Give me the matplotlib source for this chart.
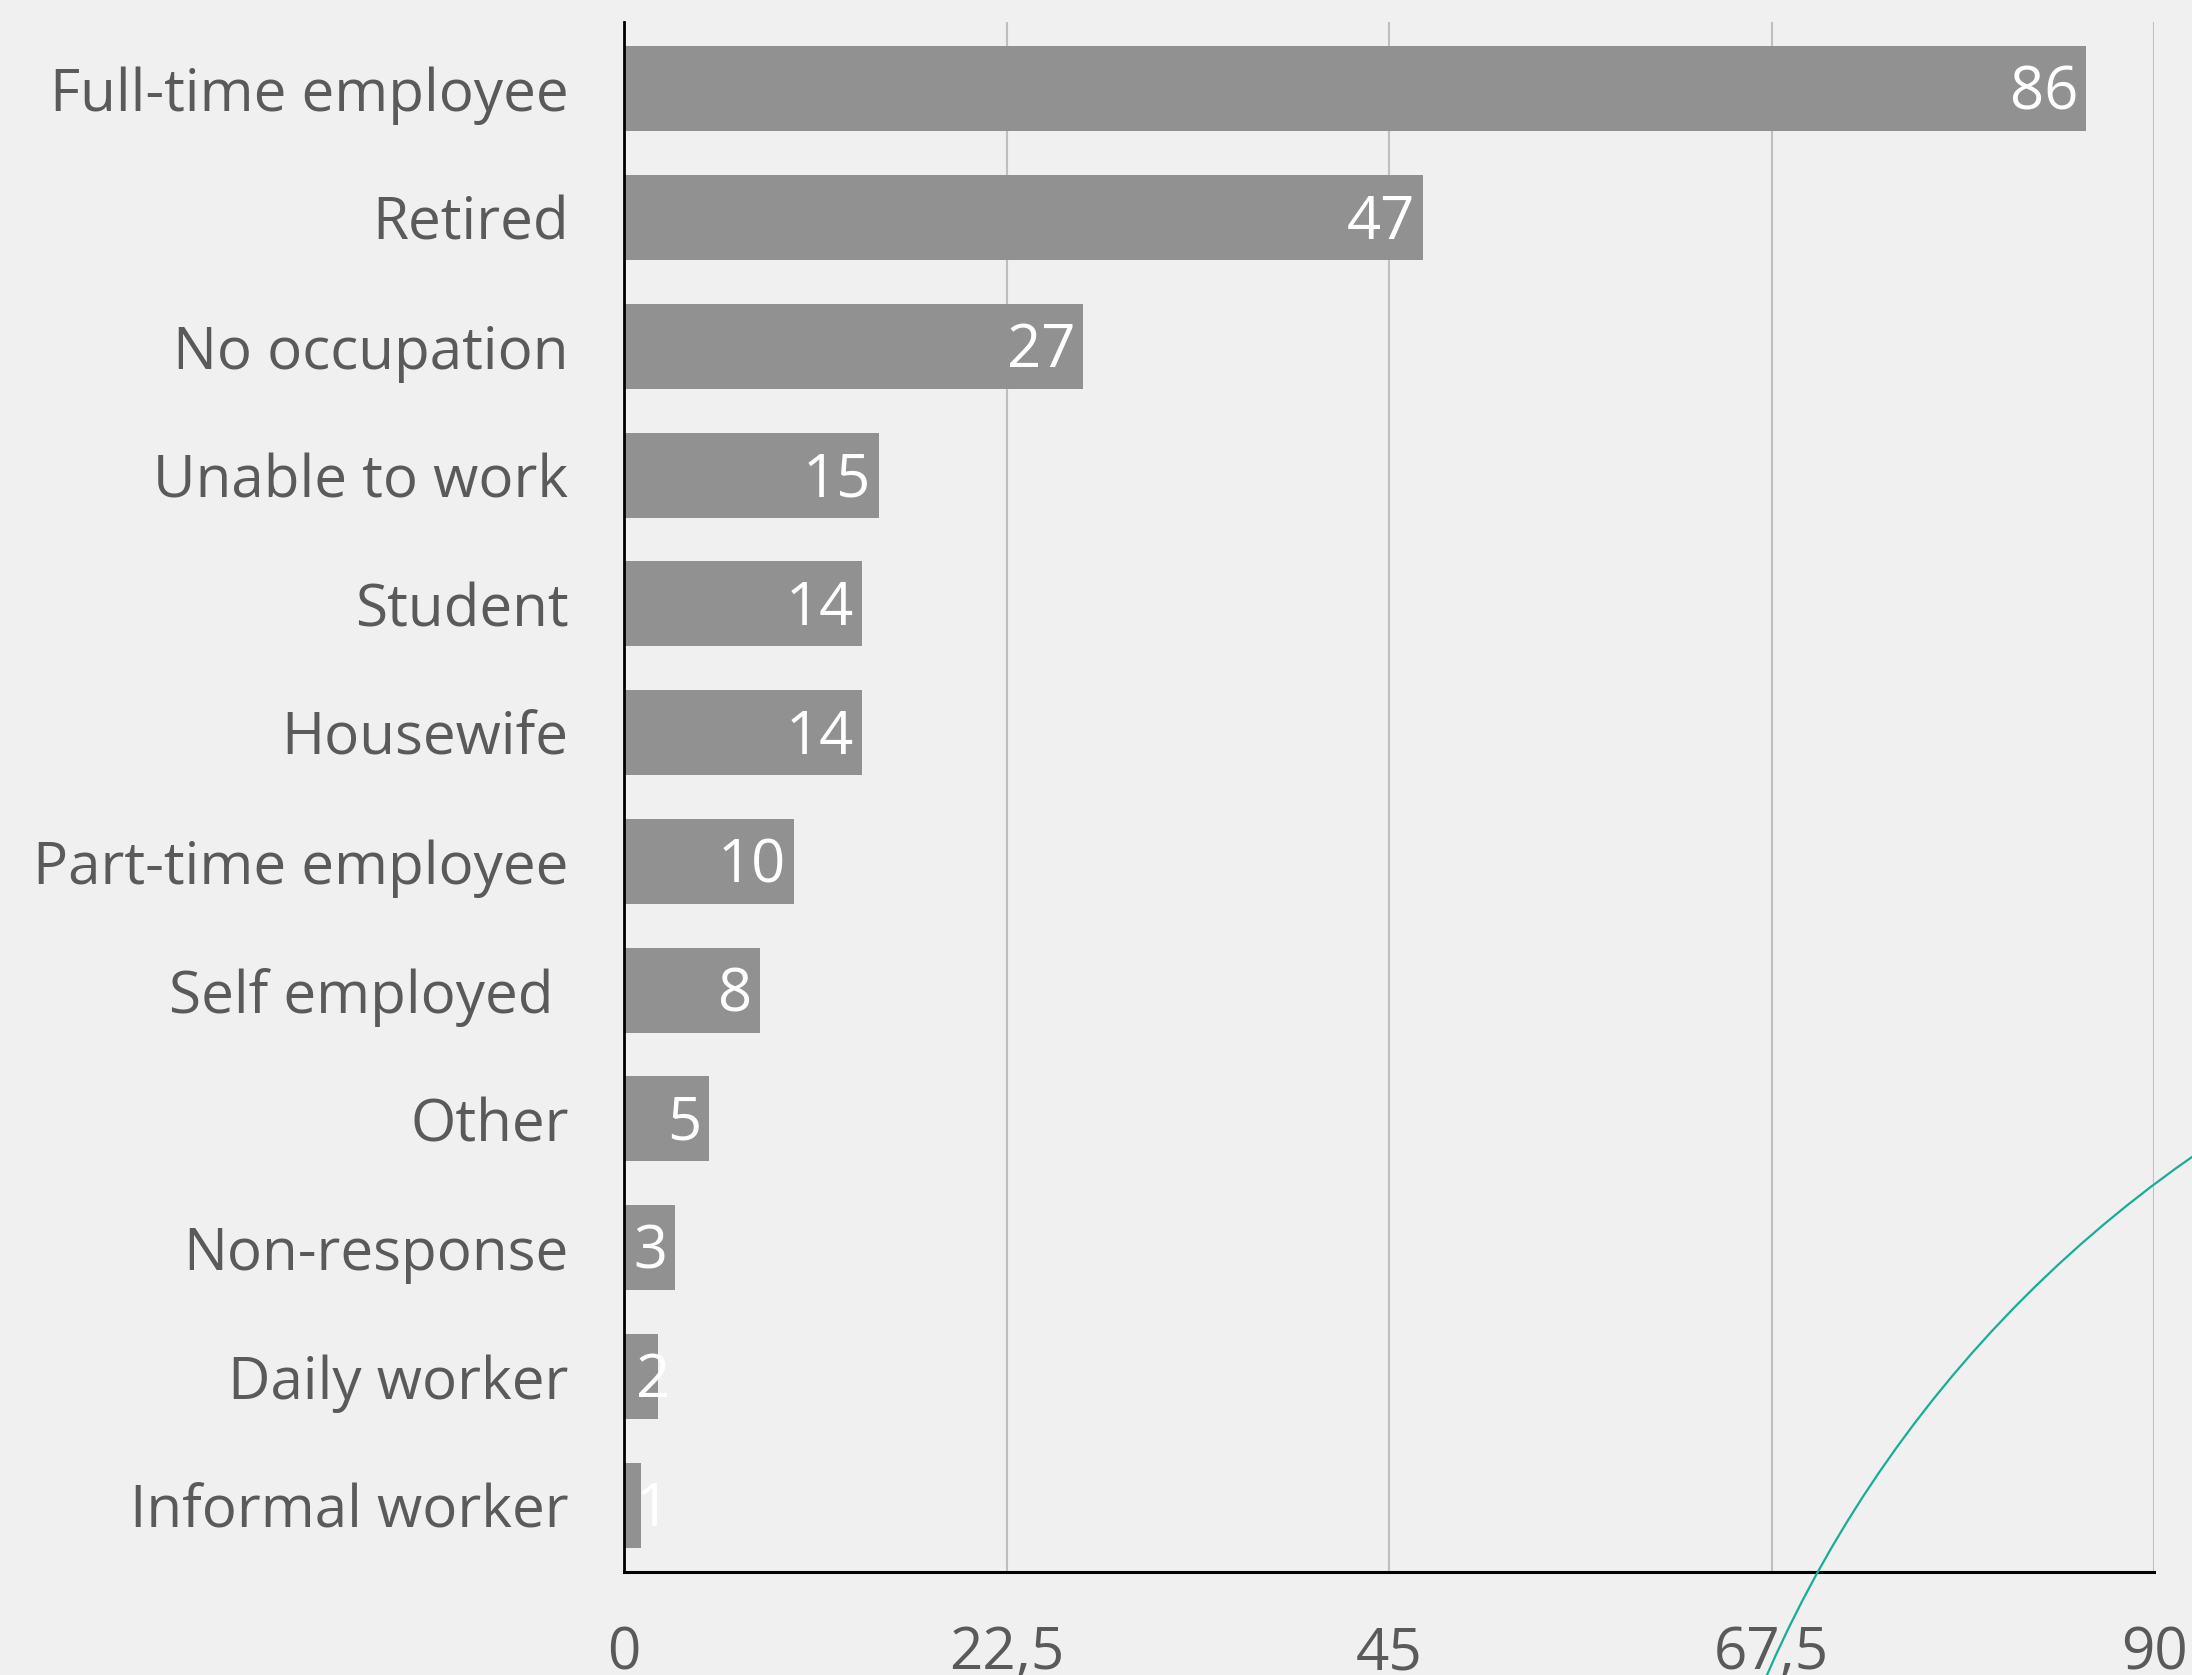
import matplotlib.pyplot as plt
from matplotlib.patches import Circle
from matplotlib.transforms import offset_copy

plt.rcParams['font.family'] = ['Open Sans', 'DejaVu Sans']

# occupation counts
categories = [
    "Full-time employee", "Retired", "No occupation", "Unable to work",
    "Student", "Housewife", "Part-time employee", "Self employed ",
    "Other", "Non-response", "Daily worker", "Informal worker",
]
counts = [86, 47, 27, 15, 14, 14, 10, 8, 5, 3, 2, 1]
x_ticks = [0, 22.5, 45, 67.5, 90]
x_tick_labels = ["0", "22,5", "45", "67,5", "90"]

bg = '#f0f0f0'
bar_color = '#919191'
text_color = '#5a5a5a'

fig = plt.figure(figsize=(21.92, 16.75), dpi=100, facecolor=bg)
ax = fig.add_axes([0.2847, 0.0615, 0.698, 0.9254], facecolor=bg)

ypos = list(range(len(categories)))
ax.barh(ypos, counts, height=0.66, color=bar_color, zorder=2)

ax.set_xlim(0, 90)
ax.set_ylim(len(categories) - 0.48, -0.52)
ax.set_yticks(ypos)
ax.set_yticklabels(categories)
ax.set_xticks(x_ticks)
ax.set_xticklabels(x_tick_labels)

ax.tick_params(axis='y', length=0, pad=40, labelsize=42, labelcolor=text_color)
ax.tick_params(axis='x', length=0, pad=38, labelsize=42, labelcolor=text_color)

ax.grid(axis='x', color='#bfbfbf', linewidth=1.5, zorder=1)
ax.set_axisbelow(True)
for side in ['top', 'right']:
    ax.spines[side].set_visible(False)
ax.spines['left'].set_linewidth(2)
ax.spines['bottom'].set_linewidth(2.2)
ax.spines['left'].set_zorder(3)

# value labels inside the bar ends, nudged right when the bar is too short
for y, v in zip(ypos, counts):
    if v >= 3:
        tr = offset_copy(ax.transData, fig=fig, x=-8, y=-5, units='dots')
        ax.text(v, y, str(v), transform=tr, ha='right', va='center',
                fontsize=43, color='white', zorder=4)
    else:
        tr = offset_copy(ax.transData, fig=fig, x=12, y=-5, units='dots')
        ax.text(0, y, str(v), transform=tr, ha='left', va='center',
                fontsize=43, color='white', zorder=4)

# decorative arc in the lower right corner
arc = Circle((28.96, -4.93), 12.32, transform=fig.dpi_scale_trans,
             fill=False, edgecolor='#17ad97', linewidth=1.6, zorder=10)
fig.add_artist(arc)

fig.savefig('out.png', dpi=100, facecolor=bg)
